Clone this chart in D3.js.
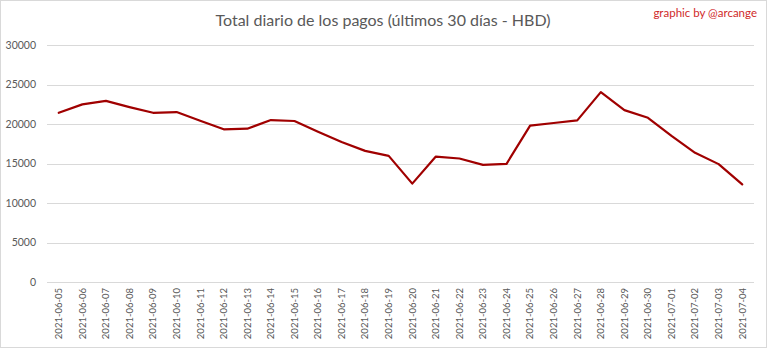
<!DOCTYPE html>
<html>
<head>
<meta charset="utf-8">
<script src="https://cdn.jsdelivr.net/npm/d3@7"></script>
<style>
  html, body { margin: 0; padding: 0; background: #fff; }
  svg { display: block; }
</style>
</head>
<body>
<svg id="chart" width="768" height="349"></svg>
<script>
const categories = ["2021-06-05","2021-06-06","2021-06-07","2021-06-08","2021-06-09","2021-06-10","2021-06-11","2021-06-12","2021-06-13","2021-06-14","2021-06-15","2021-06-16","2021-06-17","2021-06-18","2021-06-19","2021-06-20","2021-06-21","2021-06-22","2021-06-23","2021-06-24","2021-06-25","2021-06-26","2021-06-27","2021-06-28","2021-06-29","2021-06-30","2021-07-01","2021-07-02","2021-07-03","2021-07-04"];
const totals = [21420,22480,22930,22140,21420,21510,20420,19330,19410,20500,20380,19030,17730,16600,15970,12450,15880,15630,14830,14960,19790,20130,20460,24030,21760,20790,18490,16350,14920,12350];
const yTicks = [0,5000,10000,15000,20000,25000,30000];
const titleText = "Total diario de los pagos (últimos 30 días - HBD)";
const creditText = "graphic by @arcange";

const W = 768, H = 349;
const plot = {left: 47, right: 754, top: 45, bottom: 282};
const svg = d3.select("#chart");
const font = "Lato, 'Open Sans', sans-serif";

svg.append("rect").attr("x", 0.5).attr("y", 0.5).attr("width", W - 2).attr("height", H - 2)
  .attr("fill", "#fff").attr("stroke", "#d9d9d9");

const x = d3.scaleBand().domain(categories).range([plot.left, plot.right]);
const y = d3.scaleLinear().domain([0, 30000]).range([plot.bottom, plot.top]);

// gridlines
svg.append("g").selectAll("line").data(yTicks).join("line")
  .attr("x1", plot.left).attr("x2", plot.right)
  .attr("y1", d => Math.round(y(d)) + 0.5).attr("y2", d => Math.round(y(d)) + 0.5)
  .attr("stroke", "#d9d9d9").attr("stroke-width", 1);

// y axis labels
const yAxis = d3.axisLeft(y).tickValues(yTicks).tickSize(0).tickPadding(0).tickFormat(d3.format("d"));
const yg = svg.append("g").attr("transform", `translate(36,0)`).call(yAxis);
yg.select(".domain").remove();
yg.selectAll("text").attr("fill", "#595959").style("font-family", font).style("font-size", "10.5px");

// x axis labels
const xAxis = d3.axisBottom(x).tickSize(0).tickPadding(0);
const xg = svg.append("g").attr("transform", `translate(0,${plot.bottom})`).call(xAxis);
xg.select(".domain").remove();
xg.selectAll("text")
  .attr("fill", "#595959").style("font-family", font).style("font-size", "9.5px")
  .attr("text-anchor", "end").attr("dy", "0.35em")
  .attr("transform", "translate(0,6) rotate(-90)")
  .attr("x", 0).attr("y", 0);

// line
const line = d3.line().x((d, i) => x(categories[i]) + x.bandwidth() / 2).y(d => y(d));
svg.append("path").datum(totals).attr("d", line)
  .attr("fill", "none").attr("stroke", "#a00000").attr("stroke-width", 2.2)
  .attr("stroke-linejoin", "round").attr("stroke-linecap", "round");

// title
svg.append("text").attr("x", 383).attr("y", 26).attr("text-anchor", "middle")
  .attr("fill", "#595959").style("font-family", font).style("font-size", "16px")
  .text(titleText);

// credit
svg.append("text").attr("x", 757).attr("y", 17).attr("text-anchor", "end")
  .attr("fill", "#d02a2a").style("font-family", font).style("font-size", "11.5px")
  .text(creditText);
</script>
</body>
</html>
